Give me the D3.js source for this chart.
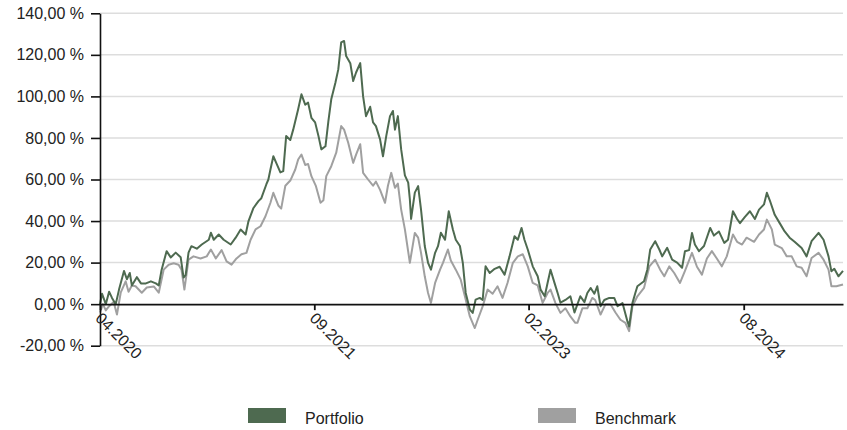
<!DOCTYPE html>
<html>
<head>
<meta charset="utf-8">
<script src="https://cdn.jsdelivr.net/npm/d3@7"></script>
<style>
body{margin:0;background:#fff;}
.chart text{font-family:"Liberation Sans",Arial,sans-serif;fill:#222;}
</style>
</head>
<body>
<div class="chart"></div>
<script>
const yTicks = [-20, 0, 20, 40, 60, 80, 100, 120, 140];
const yTickLabels = ["-20,00 %", "0,00 %", "20,00 %", "40,00 %", "60,00 %", "80,00 %", "100,00 %", "120,00 %", "140,00 %"];
const xTickDates = ["2020-04-20", "2021-09-20", "2023-02-20", "2024-07-24"];
const xTickLabels = ["04.2020", "09.2021", "02.2023", "08.2024"];
const seriesNames = ["Portfolio", "Benchmark"];
const seriesColors = ["#4e6a50", "#a0a0a0"];

// cumulative performance in %
const portfolio = [
  ["2020-04-20",0],["2020-04-25",5],["2020-05-04",0],["2020-05-12",6],["2020-05-19",3],["2020-05-28",0],
  ["2020-06-05",7],["2020-06-17",16],["2020-06-24",12],["2020-07-01",15],["2020-07-06",9],["2020-07-18",13],
  ["2020-07-28",10],["2020-08-09",10],["2020-08-21",11],["2020-09-02",10],["2020-09-09",9],["2020-09-16",16.6],
  ["2020-09-28",25.5],["2020-10-08",22.5],["2020-10-20",24.8],["2020-11-01",22.6],["2020-11-08",12.8],["2020-11-13",14],
  ["2020-11-20",24.8],["2020-11-27",27.9],["2020-12-10",26.7],["2020-12-22",28.7],["2021-01-08",31],["2021-01-13",34.4],
  ["2021-01-20",31],["2021-02-01",33.5],["2021-02-13",31],["2021-03-02",28.7],["2021-03-14",32],["2021-03-26",35.9],
  ["2021-04-07",33.5],["2021-04-14",40],["2021-04-26",46.3],["2021-05-08",49.6],["2021-05-15",51],["2021-05-27",57.6],
  ["2021-06-01",60],["2021-06-06",64.8],["2021-06-13",71.2],["2021-06-20",68],["2021-06-30",63.4],["2021-07-07",64],
  ["2021-07-14",80.9],["2021-07-24",79],["2021-07-31",84],["2021-08-12",93.8],["2021-08-20",101],["2021-08-29",96],
  ["2021-09-05",97],["2021-09-13",89.7],["2021-09-22",87.5],["2021-09-30",81],["2021-10-07",74.5],["2021-10-17",76],
  ["2021-10-24",88],["2021-10-31",98.6],["2021-11-10",106.6],["2021-11-17",113],["2021-11-24",126],["2021-12-01",126.7],
  ["2021-12-06",119.4],["2021-12-16",116],["2021-12-23",107.4],["2021-12-30",111.5],["2022-01-09",116],["2022-01-16",100],
  ["2022-01-23",90.5],["2022-02-02",95],["2022-02-09",87.5],["2022-02-16",85.7],["2022-02-26",79.3],["2022-03-05",71.2],
  ["2022-03-13",81],["2022-03-22",90.5],["2022-03-29",93],["2022-04-03",84],["2022-04-10",90.5],["2022-04-18",74.5],
  ["2022-04-27",62],["2022-05-05",58.5],["2022-05-09",50.4],["2022-05-12",41],["2022-05-21",53.7],["2022-05-29",56.8],
  ["2022-06-05",45.5],["2022-06-14",28],["2022-06-22",19.9],["2022-06-29",16.6],["2022-07-09",24.7],["2022-07-16",27.9],
  ["2022-07-23",34.4],["2022-08-02",31],["2022-08-11",44.7],["2022-08-21",35.9],["2022-08-28",31],["2022-09-07",28],
  ["2022-09-14",19.9],["2022-09-21",5.4],["2022-10-01",-2.6],["2022-10-08",-4.2],["2022-10-15",2.2],["2022-10-25",3],
  ["2022-11-01",2],["2022-11-08",18.2],["2022-11-18",15],["2022-11-30",17],["2022-12-12",18],["2022-12-24",14.2],
  ["2023-01-05",23],["2023-01-17",32.7],["2023-01-25",31],["2023-02-03",36.7],["2023-02-10",31],["2023-02-18",26.3],
  ["2023-03-02",18.2],["2023-03-14",13.4],["2023-03-21",7],["2023-03-31",3.8],["2023-04-07",10.3],["2023-04-14",16.6],
  ["2023-04-24",10],["2023-05-01",5.5],["2023-05-08",0.7],["2023-05-20",2],["2023-06-01",3.8],["2023-06-11",-4],
  ["2023-06-25",3.8],["2023-07-05",1],["2023-07-12",5.4],["2023-07-20",7.8],["2023-07-29",5],["2023-08-05",8.6],
  ["2023-08-13",-1],["2023-08-22",2],["2023-09-03",3],["2023-09-15",3],["2023-09-23",-1],["2023-10-05",0.5],
  ["2023-10-17",-8.3],["2023-10-21",-10.7],["2023-10-29",0.5],["2023-11-05",5.4],["2023-11-10",8.6],["2023-11-26",11],
  ["2023-12-04",16.6],["2023-12-11",26.3],["2023-12-23",30.3],["2024-01-02",26.3],["2024-01-09",23],["2024-01-21",27.1],
  ["2024-02-02",21.4],["2024-02-14",20],["2024-02-26",17.5],["2024-03-04",25.5],["2024-03-14",26],["2024-03-21",34.3],
  ["2024-03-28",28.7],["2024-04-07",25.5],["2024-04-19",28],["2024-05-04",36.7],["2024-05-13",33],["2024-05-25",35],
  ["2024-06-07",29.5],["2024-06-16",31],["2024-06-28",44.7],["2024-07-08",41],["2024-07-15",39],["2024-07-27",42],
  ["2024-08-08",44.7],["2024-08-20",41],["2024-08-30",45.5],["2024-09-11",48],["2024-09-18",53.6],["2024-09-25",50],
  ["2024-10-07",43],["2024-10-19",39],["2024-10-31",35],["2024-11-12",32],["2024-11-24",30],["2024-12-11",27],
  ["2024-12-23",23],["2025-01-04",30.3],["2025-01-21",34.3],["2025-02-02",31],["2025-02-14",23],["2025-02-21",15.8],
  ["2025-02-28",17],["2025-03-10",13.4],["2025-03-21",16]
];

const benchmark = [
  ["2020-04-20",-4],["2020-04-27",0],["2020-05-04",-3],["2020-05-12",-1],["2020-05-23",1],["2020-05-31",-5],
  ["2020-06-09",5.5],["2020-06-21",11],["2020-06-28",6],["2020-07-06",9],["2020-07-15",8.6],["2020-07-30",5.5],
  ["2020-08-11",8],["2020-08-28",8.5],["2020-09-09",5.5],["2020-09-21",16.6],["2020-10-03",19],["2020-10-15",19.7],
  ["2020-10-27",19],["2020-11-03",16.6],["2020-11-10",7],["2020-11-20",21.4],["2020-12-02",23],["2020-12-19",22],
  ["2021-01-03",23],["2021-01-13",26.3],["2021-01-25",22],["2021-02-08",26],["2021-02-20",20.6],["2021-03-04",19],
  ["2021-03-16",22],["2021-03-28",24],["2021-04-09",24.7],["2021-04-19",31],["2021-05-01",36],["2021-05-13",37.5],
  ["2021-05-25",42.3],["2021-06-06",48.8],["2021-06-13",53.6],["2021-06-25",47.5],["2021-07-02",46],["2021-07-12",57],
  ["2021-07-24",59.5],["2021-08-05",64.8],["2021-08-12",69.6],["2021-08-20",72],["2021-08-29",67],["2021-09-05",67.5],
  ["2021-09-13",61.6],["2021-09-24",56.8],["2021-10-05",48.8],["2021-10-12",50],["2021-10-19",61.6],["2021-10-31",66.4],
  ["2021-11-12",72.9],["2021-11-24",85.7],["2021-12-01",84],["2021-12-11",77.7],["2021-12-23",68],["2021-12-30",72],
  ["2022-01-09",77],["2022-01-16",63.2],["2022-01-28",60],["2022-02-09",57],["2022-02-16",59],["2022-02-26",55],
  ["2022-03-10",48.8],["2022-03-17",57],["2022-03-25",63.2],["2022-04-03",56],["2022-04-10",58],["2022-04-18",45.5],
  ["2022-04-27",36],["2022-05-09",19.9],["2022-05-21",34.3],["2022-05-29",32],["2022-06-05",24.7],["2022-06-14",13.4],
  ["2022-06-22",5.4],["2022-06-29",0.6],["2022-07-09",10.2],["2022-07-21",16.6],["2022-07-28",19.9],["2022-08-09",26.3],
  ["2022-08-16",21],["2022-08-28",16.6],["2022-09-09",11.8],["2022-09-19",3.8],["2022-10-01",-5.9],["2022-10-13",-11.5],
  ["2022-10-20",-7.5],["2022-11-01",-1.1],["2022-11-13",7],["2022-11-25",5],["2022-12-07",8.6],["2022-12-19",3],
  ["2022-12-31",10.2],["2023-01-13",19.9],["2023-01-25",23],["2023-02-06",24],["2023-02-18",18.2],["2023-03-02",10.2],
  ["2023-03-14",9],["2023-03-26",0.6],["2023-04-07",5.4],["2023-04-14",7],["2023-04-26",0.5],["2023-05-08",-4.2],
  ["2023-05-20",-2],["2023-06-01",-5.9],["2023-06-13",-9],["2023-06-18",-9],["2023-06-30",-2],["2023-07-12",-2],
  ["2023-07-24",3],["2023-07-31",2],["2023-08-13",-5],["2023-08-25",0],["2023-09-06",0],["2023-09-18",-4],
  ["2023-09-30",-7.5],["2023-10-12",-9],["2023-10-21",-13],["2023-10-29",-1],["2023-11-10",3.8],["2023-11-26",7.8],
  ["2023-12-09",18.2],["2023-12-23",21.4],["2024-01-04",16.6],["2024-01-14",13.4],["2024-01-26",18.2],["2024-02-07",15],
  ["2024-02-21",10.2],["2024-03-04",16],["2024-03-21",24.7],["2024-04-02",18],["2024-04-14",14.2],["2024-04-26",22],
  ["2024-05-08",25.5],["2024-05-20",22],["2024-06-01",18.2],["2024-06-13",23],["2024-06-28",33.5],["2024-07-08",30],
  ["2024-07-20",28.7],["2024-07-31",32],["2024-08-18",30],["2024-08-30",33.5],["2024-09-11",35.9],["2024-09-18",40.7],
  ["2024-09-30",36],["2024-10-07",28.7],["2024-10-24",27],["2024-11-05",23],["2024-11-17",23],["2024-11-29",18.2],
  ["2024-12-11",17.5],["2024-12-23",13.4],["2025-01-04",22.2],["2025-01-21",24.7],["2025-02-02",21.4],["2025-02-14",16.6],
  ["2025-02-21",8.6],["2025-03-05",8.6],["2025-03-21",9.5]
];

const parseDate = d3.timeParse("%Y-%m-%d");

chart();

function chart() {
    const margin = {top:13.3, left:100, bottom:84.3, right:4};
    const width = 847 - margin.left - margin.right;
    const height = 430 - margin.top - margin.bottom;

    const svg = d3.select('.chart')
        .append('svg')
        .attr('width', 847)
        .attr('height', 430)
        .append('g')
        .attr('transform', 'translate('+margin.left+','+margin.top+')');

    const series = [portfolio, benchmark].map((s, i) => ({
        name: seriesNames[i],
        color: seriesColors[i],
        values: s.map(d => ({date: parseDate(d[0]), value: d[1]}))
    }));

    const xScale = d3.scaleTime()
        .domain(d3.extent(series[0].values, d => d.date))
        .range([0, width]);

    const yScale = d3.scaleLinear()
        .domain([-20, 140])
        .range([height, 0]);

    // grid
    svg.append('g')
        .selectAll('line')
        .data(yTicks.filter(d => d !== 0))
        .enter()
        .append('line')
        .attr('x1', 0)
        .attr('x2', width)
        .attr('y1', d => yScale(d))
        .attr('y2', d => yScale(d))
        .style('stroke', '#dddddd')
        .style('stroke-width', 1.5);

    const line = d3.line()
        .x(d => xScale(d.date))
        .y(d => yScale(d.value));

    // benchmark under portfolio
    svg.selectAll('.series')
        .data(series.slice().reverse())
        .enter()
        .append('path')
        .attr('d', d => line(d.values))
        .style('fill', 'none')
        .style('stroke', d => d.color)
        .style('stroke-width', 2)
        .style('stroke-linejoin', 'round');

    const yAxis = d3.axisLeft(yScale)
        .tickValues(yTicks)
        .tickFormat((d, i) => yTickLabels[i])
        .tickSize(9)
        .tickSizeOuter(0)
        .tickPadding(7);

    const yg = svg.append('g').call(yAxis);
    yg.selectAll('path, line').style('stroke', '#111').style('stroke-width', 1.6);
    yg.selectAll('text').style('font-size', '16px').style('fill', '#222');

    const xAxis = d3.axisBottom(xScale)
        .tickValues(xTickDates.map(parseDate))
        .tickFormat((d, i) => xTickLabels[i])
        .tickSize(6)
        .tickSizeOuter(0);

    const xg = svg.append('g')
        .attr('transform', `translate(0, ${yScale(0)})`)
        .call(xAxis);
    xg.selectAll('path, line').style('stroke', '#111').style('stroke-width', 1.8);
    xg.selectAll('text')
        .attr('x', 0)
        .attr('y', 0)
        .attr('dy', 0)
        .attr('text-anchor', 'start')
        .attr('transform', 'translate(-6,15) rotate(45)')
        .style('font-size', '16px')
        .style('fill', '#222');

    // legend
    const legend = d3.select('.chart svg').append('g');
    const legendX = [248, 538];
    legend.selectAll('rect')
        .data(series)
        .enter()
        .append('rect')
        .attr('x', (d, i) => legendX[i])
        .attr('y', 408)
        .attr('width', 38)
        .attr('height', 15)
        .style('fill', d => d.color);

    legend.selectAll('text')
        .data(series)
        .enter()
        .append('text')
        .attr('x', (d, i) => legendX[i] + 57)
        .attr('y', 424)
        .text(d => d.name)
        .style('font-size', '16px');
}
</script>
</body>
</html>
